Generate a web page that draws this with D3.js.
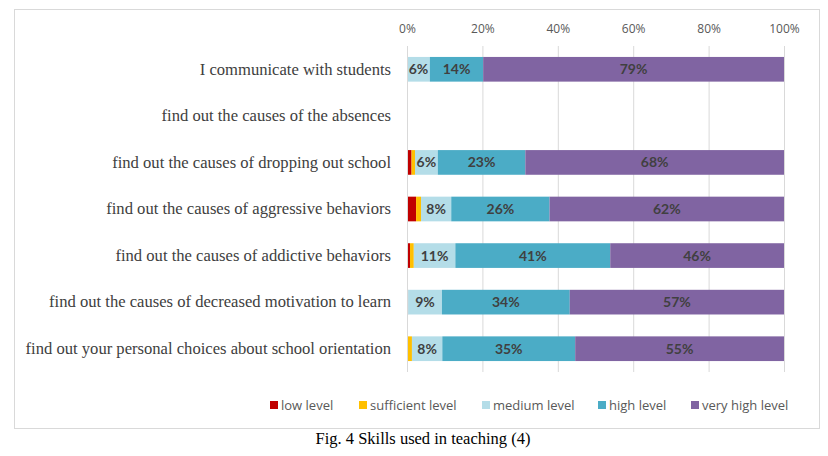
<!DOCTYPE html>
<html><head><meta charset="utf-8">
<script src="https://cdn.jsdelivr.net/npm/d3@7"></script>
<style>body{margin:0;background:#fff}svg{display:block}</style>
</head><body>
<script>
const categories = [
  "I communicate with students",
  "find out the causes of the absences",
  "find out the causes of dropping out school",
  "find out the causes of aggressive behaviors",
  "find out the causes of addictive behaviors",
  "find out the causes of decreased motivation to learn",
  "find out your personal choices about school orientation"
];
const seriesNames = ["low level","sufficient level","medium level","high level","very high level"];
const lowLevel        = [0, 0, 1.2, 2.4, 0.8, 0.3, 0];
const sufficientLevel = [0, 0, 0.9, 1.3, 1.0, 0,   1.3];
const mediumLevel     = [6, 0, 6,   8,   11,  9,   8];
const highLevel       = [14, 0, 23, 26,  41,  34,  35];
const veryHighLevel   = [79, 0, 68, 62,  46,  57,  55];
const tickValues = [0, 0.2, 0.4, 0.6, 0.8, 1.0];
const colors = ["#c00000","#ffc000","#b4dde8","#4bacc6","#8064a2"];
const showLabel = [false,false,true,true,true];

const W = 828, H = 456;
const svg = d3.select("body").append("svg").attr("width", W).attr("height", H);

// chart border
svg.append("rect").attr("x",14.5).attr("y",9.5).attr("width",805).attr("height",419)
  .attr("fill","#fff").attr("stroke","#d9d9d9").attr("stroke-width",1);

const x = d3.scaleLinear().domain([0,1]).range([407,784]);
const y = d3.scaleBand().domain(categories).range([46,372]).paddingInner(0.47).paddingOuter(0.235);

// gridlines
svg.append("g").selectAll("line").data(tickValues.slice(1)).join("line")
  .attr("x1",d=>x(d)+0.5).attr("x2",d=>x(d)+0.5).attr("y1",46).attr("y2",372)
  .attr("stroke","#d9d9d9").attr("stroke-width",1);

// top axis tick labels
const xAxis = d3.axisTop(x).tickValues(tickValues).tickFormat(d3.format(".0%")).tickSize(0).tickPadding(0);
const gx = svg.append("g").attr("transform","translate(0,33)").call(xAxis);
gx.select(".domain").remove();
gx.selectAll("text").attr("font-family","'Open Sans', 'Noto Sans', sans-serif").attr("font-size",12)
  .attr("fill","#595959");

const seriesArrays = [lowLevel, sufficientLevel, mediumLevel, highLevel, veryHighLevel];
const rows = categories.map((c,i)=>{
  const vals = seriesArrays.map(a=>a[i]);
  const total = d3.sum(vals);
  let acc = 0;
  return vals.map((v,k)=>{
    const s = total ? acc/total : 0; acc += v; const e = total ? acc/total : 0;
    return {cat:c, k, v, s, e};
  });
});
const segs = rows.flat().filter(d=>d.v>0);

svg.append("g").selectAll("rect").data(segs).join("rect")
  .attr("x",d=>x(d.s)).attr("width",d=>x(d.e)-x(d.s))
  .attr("y",d=>y(d.cat)).attr("height",y.bandwidth())
  .attr("fill",d=>colors[d.k]);

svg.append("g").selectAll("text").data(segs.filter(d=>showLabel[d.k])).join("text")
  .attr("x",d=>(x(d.s)+x(d.e))/2).attr("y",d=>y(d.cat)+y.bandwidth()/2)
  .attr("dy","0.36em").attr("text-anchor","middle")
  .attr("font-family","Lato, 'Open Sans', sans-serif").attr("font-weight","bold").attr("font-size",14)
  .attr("fill","#404040").text(d=>Math.round(d.v)+"%");

// y axis line
svg.append("line").attr("x1",407.5).attr("x2",407.5).attr("y1",46).attr("y2",372)
  .attr("stroke","#d9d9d9");

// category labels
const yAxis = d3.axisLeft(y).tickSize(0).tickPadding(16);
const gy = svg.append("g").attr("transform","translate(407,0)").call(yAxis);
gy.select(".domain").remove();
gy.selectAll("text").attr("font-family","'Liberation Serif', 'Times New Roman', serif").attr("font-size",16.6)
  .attr("fill","#404040");

// legend
const legendX = [270, 359, 482, 598, 691];
const lg = svg.append("g").selectAll("g").data(seriesNames).join("g")
  .attr("transform",(d,i)=>`translate(${legendX[i]},405)`);
lg.append("rect").attr("x",0).attr("y",-4).attr("width",8).attr("height",8).attr("fill",(d,i)=>colors[i]);
lg.append("text").attr("x",11).attr("y",0).attr("dy","0.35em")
  .attr("font-family","'Open Sans', 'Noto Sans', sans-serif").attr("font-size",13).attr("fill","#595959").text(d=>d);

// caption
svg.append("text").attr("x",423).attr("y",444).attr("text-anchor","middle")
  .attr("font-family","'Liberation Serif', 'Times New Roman', serif").attr("font-size",16.5).attr("fill","#000")
  .text("Fig. 4 Skills used in teaching (4)");
</script>
</body></html>
